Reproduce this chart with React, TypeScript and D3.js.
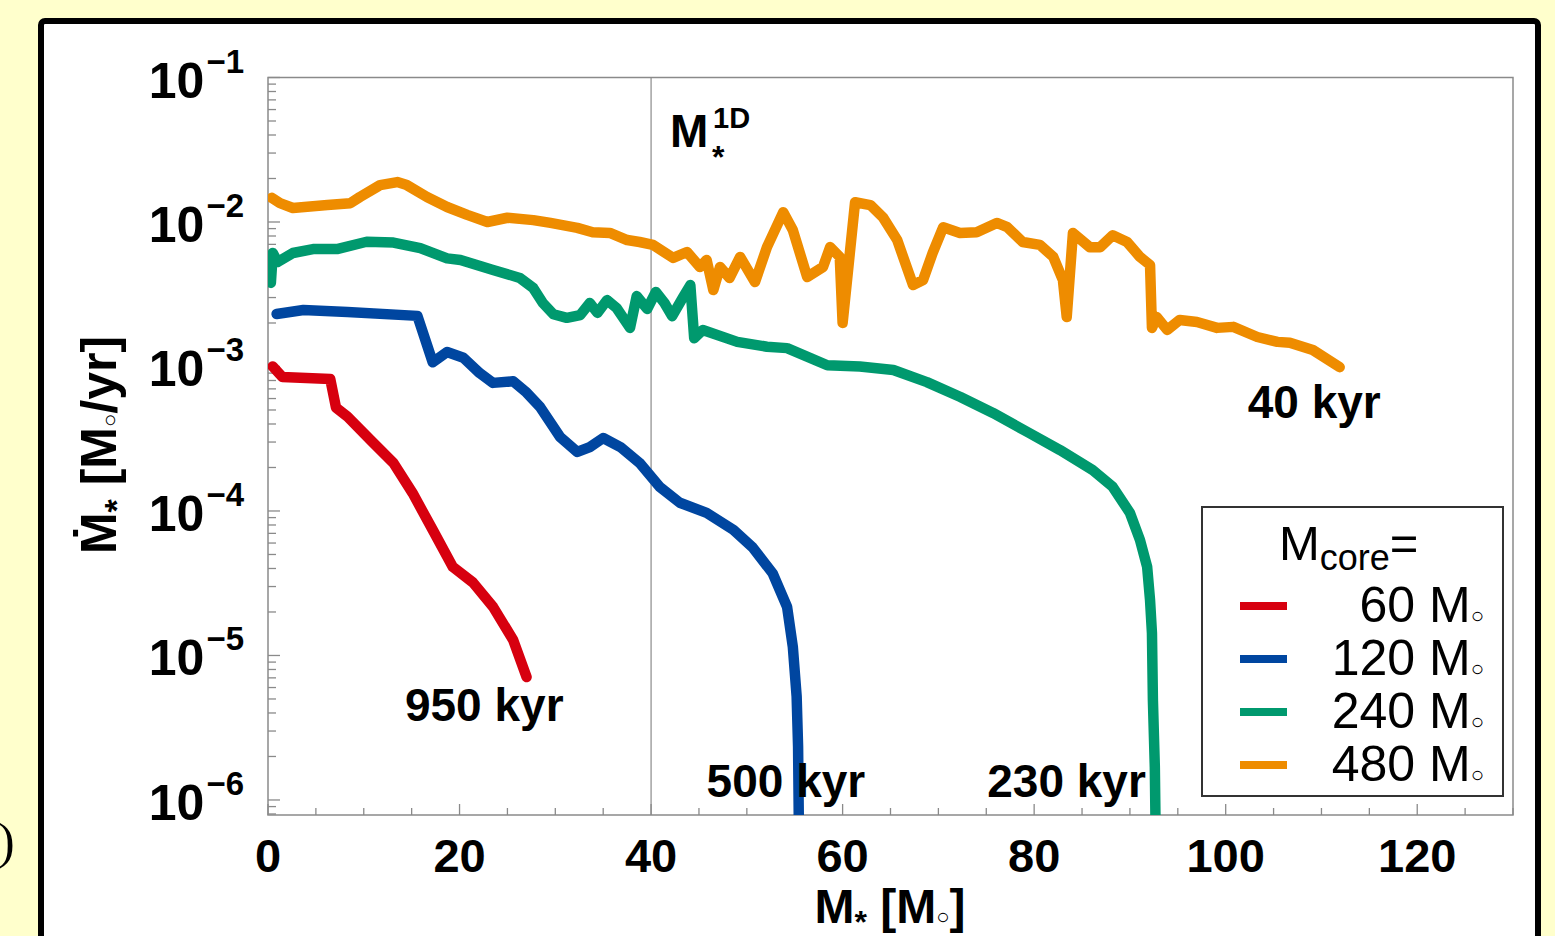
import * as d3 from "d3";

// ── data (M* [Msun], Mdot [Msun/yr]) ─────────────────────────────
const red60: [number, number][] = [
  [0.5, 1.0e-3], [1.5, 8.45e-4], [6.5, 8.2e-4], [7.1, 5.2e-4], [8.3, 4.5e-4],
  [10.7, 3.1e-4], [13.1, 2.15e-4], [15.1, 1.33e-4], [17.2, 7.4e-5], [19.3, 4.1e-5],
  [21.4, 3.2e-5], [23.5, 2.17e-5], [25.6, 1.28e-5], [27.0, 7.1e-6],
];

const blue120: [number, number][] = [
  [0.9, 2.31e-3], [3.7, 2.46e-3], [8.3, 2.38e-3], [15.6, 2.24e-3], [17.2, 1.07e-3],
  [18.7, 1.26e-3], [20.4, 1.15e-3], [22.1, 9.0e-4], [23.5, 7.7e-4], [25.6, 7.9e-4],
  [27.0, 6.6e-4], [28.4, 5.25e-4], [30.5, 3.25e-4], [32.3, 2.56e-4], [33.6, 2.77e-4],
  [35.0, 3.2e-4], [36.8, 2.77e-4], [38.8, 2.15e-4], [40.9, 1.47e-4], [43.0, 1.14e-4],
  [45.8, 9.7e-5], [48.6, 7.4e-5], [50.6, 5.6e-5], [52.7, 3.7e-5], [54.2, 2.17e-5],
  [54.8, 1.15e-5], [55.2, 5.2e-6], [55.35, 2.33e-6], [55.45, 5e-7],
];

const green240: [number, number][] = [
  [0.3, 3.79e-3], [0.5, 6.1e-3], [1.0, 5.28e-3], [2.6, 6.1e-3], [4.7, 6.5e-3],
  [7.2, 6.5e-3], [10.3, 7.3e-3], [13.1, 7.2e-3], [15.9, 6.6e-3], [18.7, 5.6e-3],
  [20.1, 5.46e-3], [23.5, 4.66e-3], [26.3, 4.1e-3], [27.7, 3.49e-3], [28.7, 2.75e-3],
  [29.8, 2.3e-3], [31.2, 2.17e-3], [32.6, 2.27e-3], [33.6, 2.75e-3], [34.4, 2.35e-3],
  [35.4, 2.88e-3], [36.4, 2.54e-3], [37.8, 1.85e-3], [38.5, 3.07e-3], [39.6, 2.5e-3],
  [40.5, 3.28e-3], [41.4, 2.75e-3], [42.2, 2.23e-3], [43.3, 2.98e-3], [44.1, 3.66e-3],
  [44.5, 1.57e-3], [45.4, 1.79e-3], [49.0, 1.48e-3], [52.1, 1.37e-3], [54.2, 1.34e-3],
  [58.4, 1.02e-3], [61.8, 1.0e-3], [65.3, 9.45e-4], [68.8, 7.8e-4], [72.3, 6.15e-4],
  [75.7, 4.77e-4], [79.3, 3.52e-4], [82.7, 2.64e-4], [86.1, 1.92e-4], [88.2, 1.47e-4],
  [90.0, 9.7e-5], [91.05, 6.3e-5], [91.8, 4.1e-5], [92.1, 2.42e-5], [92.3, 1.43e-5],
  [92.4, 4.9e-6], [92.6, 1.69e-6], [92.7, 5e-7],
];

const orange480: [number, number][] = [
  [0.4, 1.47e-2], [1.25, 1.35e-2], [2.6, 1.25e-2], [6.2, 1.31e-2], [8.6, 1.35e-2],
  [9.6, 1.49e-2], [11.7, 1.8e-2], [13.5, 1.89e-2], [14.5, 1.8e-2], [16.6, 1.49e-2],
  [18.7, 1.27e-2], [20.8, 1.12e-2], [22.9, 1.0e-2], [25.0, 1.07e-2], [27.7, 1.03e-2],
  [29.5, 9.85e-3], [32.3, 9.1e-3], [33.9, 8.5e-3], [35.7, 8.4e-3], [37.5, 7.5e-3],
  [38.8, 7.27e-3], [40.2, 6.94e-3], [42.3, 5.64e-3], [43.75, 6.2e-3], [45.1, 4.88e-3],
  [45.8, 5.46e-3], [46.5, 3.38e-3], [47.2, 4.88e-3], [48.2, 4.1e-3], [49.3, 5.73e-3],
  [50.85, 3.84e-3], [52.1, 6.7e-3], [53.8, 1.17e-2], [54.8, 8.8e-3], [56.3, 4.16e-3],
  [57.95, 4.88e-3], [58.7, 6.7e-3], [59.7, 5.73e-3], [60.0, 2.0e-3], [61.3, 1.37e-2],
  [62.9, 1.31e-2], [64.2, 1.08e-2], [65.7, 7.5e-3], [67.35, 3.66e-3], [68.4, 3.97e-3],
  [69.4, 6.1e-3], [70.5, 9.2e-3], [72.25, 8.4e-3], [74.0, 8.5e-3], [76.1, 9.85e-3],
  [77.2, 9.2e-3], [78.8, 7.27e-3], [80.6, 6.94e-3], [82.0, 5.73e-3], [83.0, 3.97e-3],
  [83.4, 2.2e-3], [84.05, 8.4e-3], [85.8, 6.7e-3], [86.9, 6.7e-3], [88.2, 8.1e-3],
  [89.7, 7.27e-3], [91.05, 5.73e-3], [92.1, 5.04e-3], [92.3, 1.85e-3], [92.8, 2.2e-3],
  [93.9, 1.79e-3], [95.2, 2.1e-3], [97.0, 2.03e-3], [99.1, 1.85e-3], [100.8, 1.88e-3],
  [103.3, 1.6e-3], [105.4, 1.48e-3], [106.7, 1.46e-3], [109.1, 1.3e-3], [111.9, 9.9e-4],
];

const seriesLabels = ["60", "120", "240", "480"];
const seriesColors = ["#d7000f", "#0046a0", "#00996e", "#ee8c00"];
const seriesData = [red60, blue120, green240, orange480];

const xTicks = [0, 20, 40, 60, 80, 100, 120];
const xMinorTicks = d3.range(0, 131, 5);
const yDecades = [-1, -2, -3, -4, -5, -6];
const m1D = 40;

// end-of-run labels: [text, M* at left edge, Mdot at baseline]
const runLabels: [string, number, number][] = [
  ["950 kyr", 14.3, 3.5e-6],
  ["500 kyr", 45.8, 1.05e-6],
  ["230 kyr", 75.1, 1.05e-6],
  ["40 kyr", 102.3, 4.4e-4],
];

const W = 1555;
const H = 936;
const FONT = "'Liberation Sans', Arial, Helvetica, sans-serif";

export default function App() {
  const x = d3.scaleLinear().domain([0, 130]).range([268, 1513]);
  const y = d3.scaleLog().domain([Math.pow(10, -6.104), 0.1]).range([815, 77.5]);
  const [x0, x1] = x.range();
  const [y0, y1] = y.range();

  const line = d3.line<[number, number]>().x(d => x(d[0])).y(d => y(d[1]));

  const yMinor: number[] = [];
  for (let e = -7; e < -1; e++) {
    for (let k = 2; k <= 9; k++) {
      const v = k * Math.pow(10, e);
      if (v >= y.domain()[0] && v <= y.domain()[1]) yMinor.push(v);
    }
  }

  const axisColor = "#8a8a8a";

  return (
    <svg width={W} height={H} style={{ position: "absolute", left: 0, top: 0 }}
      fontFamily={FONT}>
      <rect x={0} y={0} width={W} height={H} fill="#ffffcc" />
      <rect x={41} y={21} width={1497} height={1000} rx={4} fill="#fff" stroke="#000" strokeWidth={6} />
      <text x={-2} y={858} fontFamily="'Liberation Serif', serif" fontSize={50}>)</text>

      <defs>
        <clipPath id="plot-clip">
          <rect x={x0} y={y1} width={x1 - x0} height={y0 - y1} />
        </clipPath>
      </defs>

      {/* frame + ticks */}
      <rect x={x0} y={y1} width={x1 - x0} height={y0 - y1} fill="none" stroke={axisColor} strokeWidth={1.5} />
      {xMinorTicks.map(t => (
        <line key={"xm" + t} x1={x(t)} x2={x(t)} y1={y0} y2={y0 - (t % 20 === 0 ? 11 : 7)}
          stroke={axisColor} strokeWidth={1.3} />
      ))}
      {yMinor.map(v => (
        <line key={"ym" + v} x1={x0} x2={x0 + 8} y1={y(v)} y2={y(v)} stroke={axisColor} strokeWidth={1.3} />
      ))}
      {yDecades.map(e => (
        <line key={"yM" + e} x1={x0} x2={x0 + 12} y1={y(Math.pow(10, e))} y2={y(Math.pow(10, e))}
          stroke={axisColor} strokeWidth={1.3} />
      ))}

      {/* M*^1D marker */}
      <line x1={x(m1D)} x2={x(m1D)} y1={y1} y2={y0} stroke="#8a8a8a" strokeWidth={1.2} />
      <text x={x(m1D) + 19} y={147} fontSize={46} fontWeight="bold">
        M
        <tspan x={x(m1D) + 62} y={128} fontSize={29}>1D</tspan>
        <tspan x={x(m1D) + 61} y={168} fontSize={32}>*</tspan>
      </text>

      {/* tick labels */}
      {xTicks.map(t => (
        <text key={"xl" + t} x={x(t)} y={872} fontSize={47} fontWeight="bold" textAnchor="middle">{t}</text>
      ))}
      {yDecades.map(e => (
        <text key={"yl" + e} x={244} y={y(Math.pow(10, e)) + 20} fontSize={50} fontWeight="bold" textAnchor="end">
          10<tspan dx={2} dy={-25} fontSize={33}>{"\u2212" + Math.abs(e)}</tspan>
        </text>
      ))}

      {/* axis titles */}
      <text x={890} y={923} fontSize={48} fontWeight="bold" textAnchor="middle">
        M<tspan dy={10} fontSize={32}>*</tspan><tspan dy={-10}> [M</tspan>
        <tspan dy={1} fontSize={22}>{"\u25cb"}</tspan><tspan dy={-1}>]</tspan>
      </text>
      <g transform="translate(116,445) rotate(-90)">
        <text x={0} y={0} fontSize={50} fontWeight="bold" textAnchor="middle">
          {"\u1e40"}<tspan dy={12} fontSize={34}>*</tspan><tspan dy={-12}> [M</tspan>
          <tspan dy={1} fontSize={22}>{"\u25cb"}</tspan><tspan dy={-1}>/yr]</tspan>
        </text>
      </g>

      {/* curves */}
      <g clipPath="url(#plot-clip)">
        {seriesData.map((d, i) => (
          <path key={"s" + i} d={line(d) ?? ""} fill="none" stroke={seriesColors[i]} strokeWidth={10.5}
            strokeLinejoin="round" strokeLinecap="round" />
        ))}
      </g>

      {/* run labels */}
      {runLabels.map(([t, m, v]) => (
        <text key={t} x={x(m)} y={y(v)} fontSize={46} fontWeight="bold">{t}</text>
      ))}

      {/* legend */}
      <rect x={1202} y={507} width={301} height={289} fill="#fff" stroke="#333" strokeWidth={2} />
      <text x={1279} y={560} fontSize={49}>
        M<tspan dy={10} fontSize={36}>core</tspan><tspan dy={-10}>=</tspan>
      </text>
      {seriesLabels.map((s, i) => (
        <g key={"lg" + s}>
          <line x1={1240} x2={1287} y1={606 + i * 53} y2={606 + i * 53} stroke={seriesColors[i]} strokeWidth={8} />
          <text x={1484} y={622 + i * 53} fontSize={50} textAnchor="end">
            {s} M<tspan dy={1} fontSize={22}>{"\u25cb"}</tspan>
          </text>
        </g>
      ))}
    </svg>
  );
}
